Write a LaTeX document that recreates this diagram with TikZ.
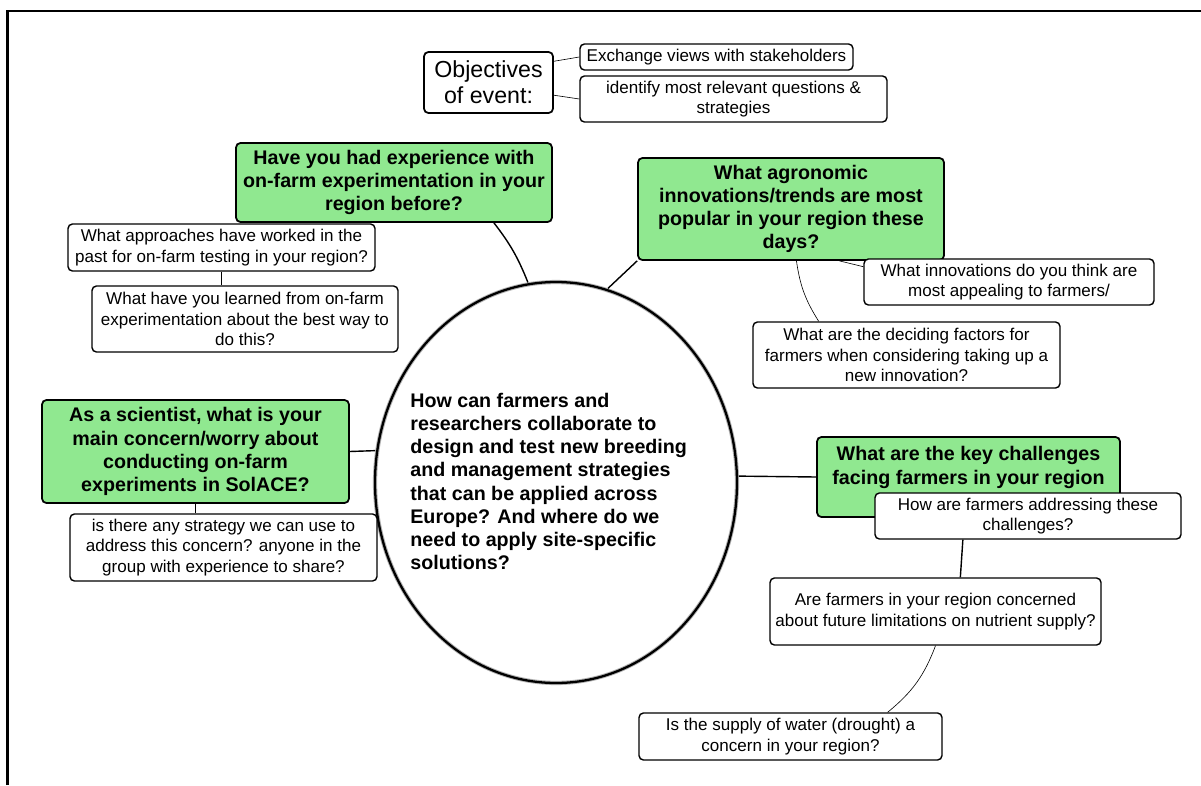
\documentclass[tikz,border=0pt]{standalone}
\usepackage{fontspec}
\setmainfont{Liberation Sans}
\usetikzlibrary{shapes.geometric}
\definecolor{topicgreen}{RGB}{144,232,144}
\newcommand{\smallq}{\fontsize{9.7}{11.6}\selectfont}
\newcommand{\bigq}{\fontsize{11.2}{13.2}\selectfont\bfseries}
\begin{document}
\begin{tikzpicture}[x=0.02cm,y=-0.02cm]
    % Define styles for shapes
    \tikzset{
      topic/.style={draw, fill=topicgreen, rounded corners=2.5pt, line width=1pt, align=center, inner sep=1pt, font=\bigq},
      question/.style={draw, fill=white, rounded corners=2.5pt, line width=0.8pt, align=center, inner sep=1pt, font=\smallq},
      link/.style={line width=0.8pt},
      thinlink/.style={line width=0.35pt}
    }
    \useasboundingbox (0,0) rectangle (1201,785);

    % Frame
    \draw[line width=1.4pt] (7.5,785) -- (7.5,11) -- (1201,11);

    % Objectives of the event
    \node[question, line width=1pt, font=\fontsize{13.2}{14.7}\selectfont, minimum width=2.58cm, minimum height=1.22cm] (objectives) at (488.5,82.5) {Objectives\\of event:};
    \node[question, minimum width=5.46cm, minimum height=0.52cm] (exchange) at (716.5,57) {Exchange views with stakeholders};
    \node[question, minimum width=6.14cm, minimum height=0.92cm] (identify) at (733.5,99) {identify most relevant questions \&\\strategies};

    % Central question
    \node[ellipse, draw=gray!60, line width=2.4pt, minimum width=7.24cm, minimum height=8.02cm] (centre) at (556,482.5) {};
    \draw[line width=1.3pt] (556,482.5) ellipse (181 and 200.5);
    \node[anchor=west, align=left, inner sep=0pt, font=\bigq] (centretext) at (410,481.5) {How can farmers and\\researchers collaborate to\\design and test new breeding\\and management strategies\\that can be applied across\\Europe? And where do we\\need to apply site-specific\\solutions?};

    % Topic 1
    \node[question, minimum width=6.14cm, minimum height=0.94cm] (approaches) at (221.5,247.5) {What approaches have worked in the\\past for on-farm testing in your region?};
    \node[question, minimum width=6.12cm, minimum height=1.32cm] (learned) at (245,319) {What have you learned from on-farm\\experimentation about the best way to\\do this?};
    \node[topic, minimum width=6.32cm, minimum height=1.58cm] (experience) at (394,182.5) {Have you had experience with\\on-farm experimentation in your\\region before?};

    % Topic 2
    \node[topic, minimum width=6.12cm, minimum height=2.04cm] (trends) at (791,209) {What agronomic\\innovations/trends are most\\popular in your region these\\days?};
    \node[question, minimum width=5.8cm, minimum height=0.92cm] (appealing) at (1009,282) {What innovations do you think are\\most appealing to farmers/};
    \node[question, minimum width=6.14cm, minimum height=1.32cm] (deciding) at (906.5,355) {What are the deciding factors for\\farmers when considering taking up a\\new innovation?};

    % Topic 3
    \node[topic, minimum width=6.14cm, minimum height=2.06cm] (concern) at (195.5,451.5) {As a scientist, what is your\\main concern/worry about\\conducting on-farm\\experiments in SolACE?};
    \node[question, minimum width=6.14cm, minimum height=1.34cm] (strategy) at (223.5,547.5) {is there any strategy we can use to\\address this concern? anyone in the\\group with experience to share?};

    % Topic 4
    \node[topic, minimum width=6.06cm, minimum height=1.6cm] (challenges) at (968.5,477) {What are the key challenges\\facing farmers in your region\\\mbox{}};
    \node[question, minimum width=6.12cm, minimum height=0.92cm] (addressing) at (1028,516) {How are farmers addressing these\\challenges?};
    \node[question, minimum width=6.62cm, minimum height=1.34cm] (nutrient) at (935.5,611.5) {Are farmers in your region concerned\\about future limitations on nutrient supply?};
    \node[question, minimum width=6.06cm, minimum height=0.94cm] (water) at (790.5,736.5) {Is the supply of water (drought) a\\concern in your region?};

    % Connectors
    \draw[thinlink] (objectives.18) -- (exchange.west);
    \draw[thinlink] (objectives.-11) -- (identify.west);
    \draw[link] (experience.-22) to[bend left=8] (centre.98);
    \draw[thinlink] (approaches.south) -- (approaches.south |- learned.north);
    \draw[link] (trends.south west) -- (centre.75);
    \draw[thinlink] (trends.-47) -- (appealing.174);
    \draw[thinlink] (trends.-84) to[bend right=12] (deciding.159);
    \draw[link] (concern.east) -- (centre.170);
    \draw[thinlink] (concern.south) -- (concern.south |- strategy.north);
    \draw[link] (centre.2) -- (challenges.west);
    \draw[link] (addressing.-160) -- (nutrient.54);
    \draw[thinlink] (nutrient.south) to[bend left=15] (water.14);
\end{tikzpicture}
\end{document}
